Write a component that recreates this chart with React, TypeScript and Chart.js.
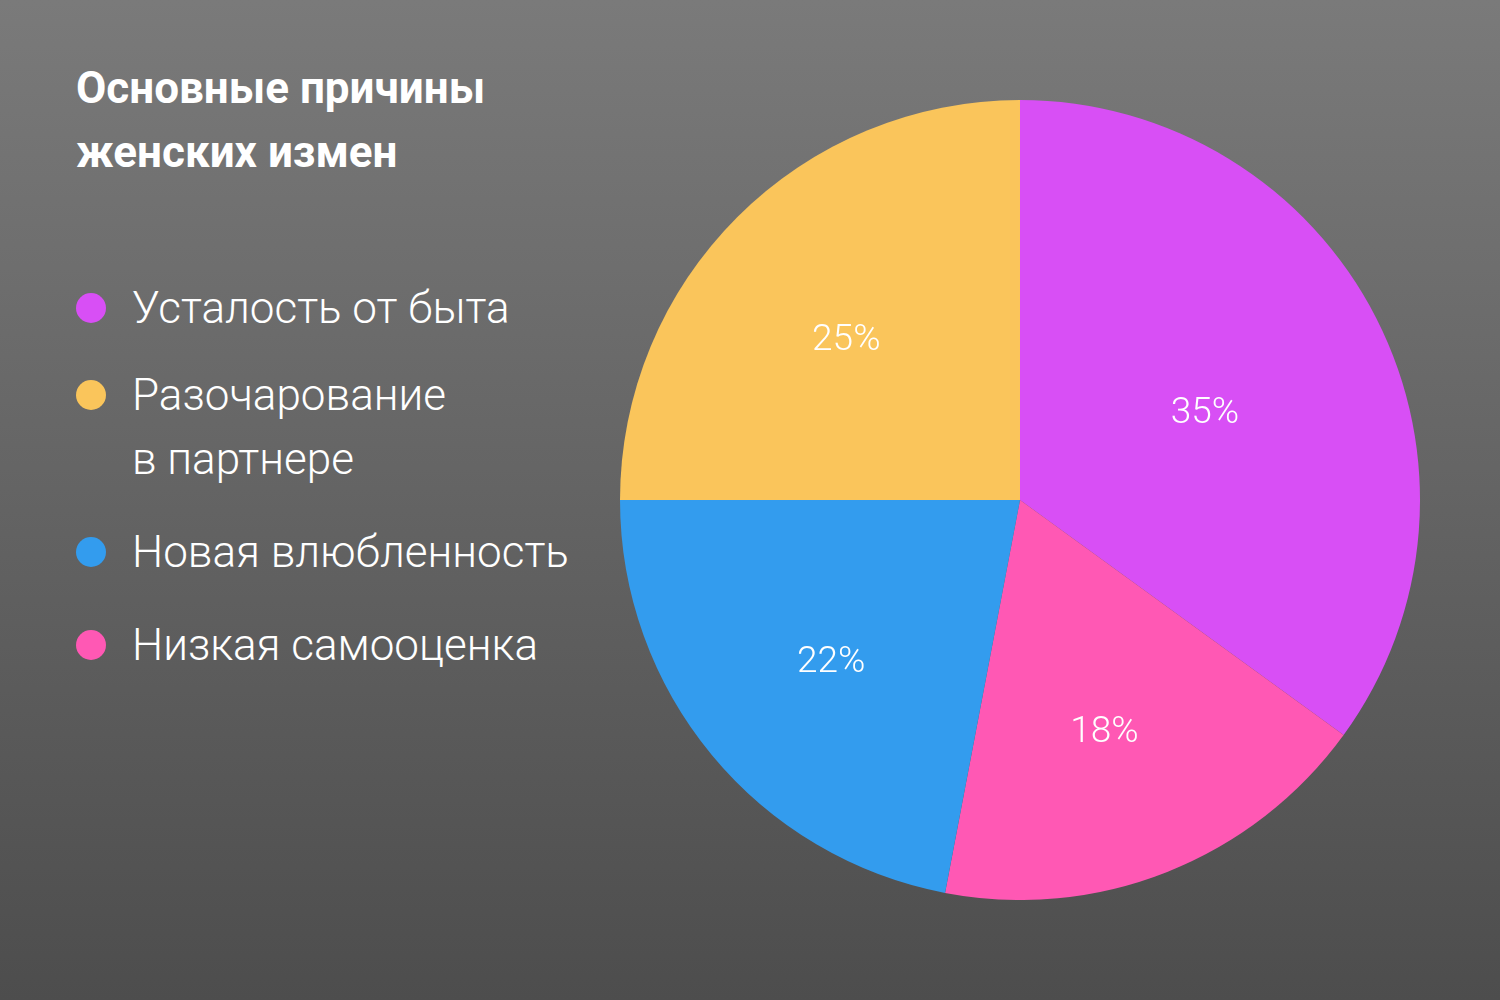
import React, { useEffect, useRef } from "react";
import { Chart, registerables } from "chart.js";

Chart.register(...registerables);

const titleLines = ["Основные причины", "женских измен"];
const categories = ["Усталость от быта", "Низкая самооценка", "Новая влюбленность", "Разочарование в партнере"];
const values = [35, 18, 22, 25];
const colors = ["#D84FF5", "#FF58B4", "#339CEE", "#FAC55B"];
const legendItems = [
  { lines: ["Усталость от быта"], color: "#D84FF5" },
  { lines: ["Разочарование", "в партнере"], color: "#FAC55B" },
  { lines: ["Новая влюбленность"], color: "#339CEE" },
  { lines: ["Низкая самооценка"], color: "#FF58B4" },
];

const sliceLabels = {
  id: "sliceLabels",
  afterDatasetsDraw(chart: any) {
    const { ctx } = chart;
    const meta = chart.getDatasetMeta(0);
    const data = chart.data.datasets[0].data as number[];
    ctx.save();
    ctx.fillStyle = "#ffffff";
    ctx.font = "300 37px Roboto";
    ctx.textAlign = "center";
    ctx.textBaseline = "middle";
    meta.data.forEach((arc: any, i: number) => {
      const { x, y, startAngle, endAngle, outerRadius } = arc.getProps(
        ["x", "y", "startAngle", "endAngle", "outerRadius"],
        true
      );
      const mid = (startAngle + endAngle) / 2;
      const r = outerRadius * (i === 0 ? 0.53 : 0.6);
      ctx.fillText(data[i] + "%", x + Math.cos(mid) * r - 4, y + Math.sin(mid) * r + 10);
    });
    ctx.restore();
  },
};

export default function App() {
  const ref = useRef<HTMLCanvasElement>(null);

  useEffect(() => {
    document.body.style.margin = "0";
    const chart = new Chart(ref.current!, {
      type: "pie",
      data: {
        labels: categories,
        datasets: [
          {
            data: values,
            backgroundColor: colors,
            borderWidth: 0,
          },
        ],
      },
      options: {
        animation: false,
        responsive: false,
        maintainAspectRatio: false,
        layout: { padding: 0 },
        plugins: {
          legend: { display: false },
          tooltip: { enabled: false },
          title: { display: false },
        },
      },
      plugins: [sliceLabels],
    });
    return () => chart.destroy();
  }, []);

  return (
    <div
      style={{
        position: "relative",
        width: 1500,
        height: 1000,
        overflow: "hidden",
        background: "linear-gradient(to bottom, #7a7a7a 0%, #4d4d4d 100%)",
        fontFamily: "Roboto, sans-serif",
        color: "#ffffff",
      }}
    >
      <div
        style={{
          position: "absolute",
          left: 76,
          top: 56,
          fontSize: 44,
          fontWeight: 700,
          lineHeight: "64px",
        }}
      >
        {titleLines.map((t) => (
          <div key={t}>{t}</div>
        ))}
      </div>
      <div style={{ position: "absolute", left: 76, top: 276 }}>
        {legendItems.map((item, idx) => (
          <div
            key={item.lines[0]}
            style={{ display: "flex", alignItems: "flex-start", marginBottom: idx === 0 ? 23 : 29 }}
          >
            <div
              style={{
                width: 30,
                height: 30,
                borderRadius: "50%",
                background: item.color,
                marginTop: 17,
                marginRight: 26,
                flexShrink: 0,
              }}
            />
            <div style={{ fontSize: 44, fontWeight: 300, lineHeight: "64px" }}>
              {item.lines.map((l) => (
                <div key={l}>{l}</div>
              ))}
            </div>
          </div>
        ))}
      </div>
      <canvas
        ref={ref}
        width={800}
        height={800}
        style={{ position: "absolute", left: 620, top: 100, width: 800, height: 800 }}
      />
    </div>
  );
}
